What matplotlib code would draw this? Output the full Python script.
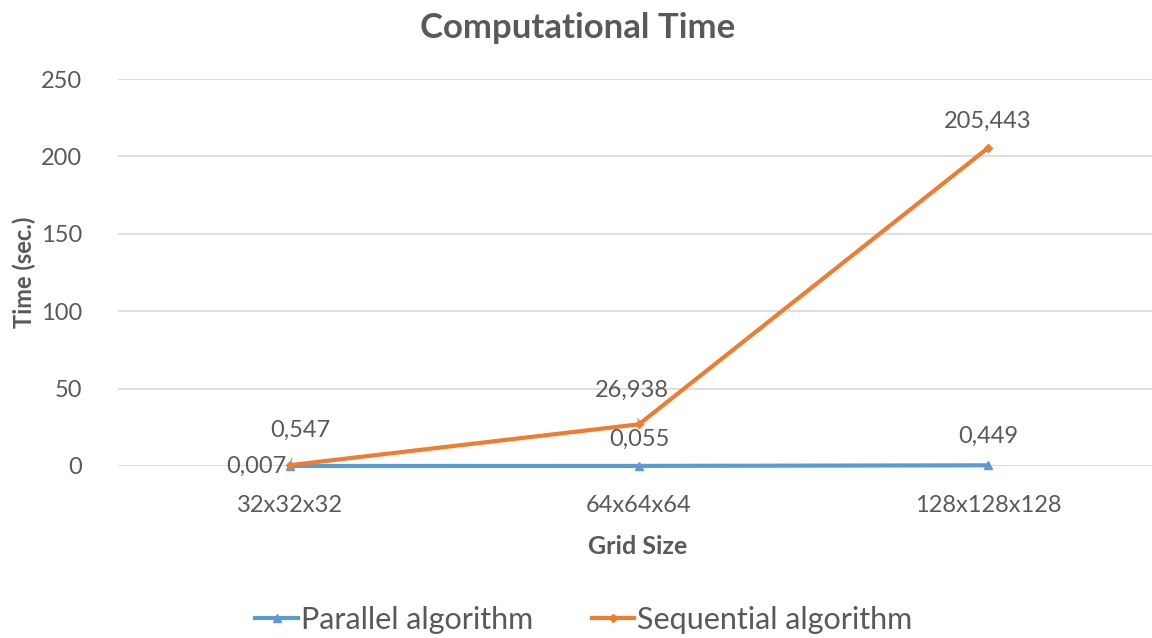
import matplotlib
matplotlib.use("Agg")
import matplotlib.pyplot as plt

categories = ["32x32x32", "64x64x64", "128x128x128"]
parallel = [0.007, 0.055, 0.449]
sequential = [0.547, 26.938, 205.443]
parallel_labels = ["0,007", "0,055", "0,449"]
sequential_labels = ["0,547", "26,938", "205,443"]
yticks = [0, 50, 100, 150, 200, 250]

plt.rcParams['font.family'] = ['Lato', 'DejaVu Sans']
TXT = '#595959'
BLUE = '#5B9BD5'
ORANGE = '#ED7D31'

fig = plt.figure(figsize=(11.52, 6.38), dpi=100)
ax = fig.add_axes([118/1152, (638-466)/638, (1152-118)/1152, (466-79)/638])
x = list(range(len(categories)))

ax.plot(x, parallel, color=BLUE, lw=3, marker='^', ms=6, label='Parallel algorithm',
        zorder=3, clip_on=False)
ax.plot(x, sequential, color=ORANGE, lw=3, marker='D', ms=4, label='Sequential algorithm',
        zorder=4, clip_on=False)

ax.set_xlim((118-290)/349, (1152-290)/349)
ax.set_ylim(0, 250)
ax.set_yticks(yticks)
ax.set_yticklabels([str(t) for t in yticks])
ax.set_xticks(x)
ax.set_xticklabels(categories)
ax.grid(axis='y', color='#D9D9D9', lw=1.2)
ax.set_axisbelow(True)
for s in ax.spines.values():
    s.set_visible(False)
ax.tick_params(axis='both', length=0, colors=TXT, labelsize=17)
ax.tick_params(axis='x', pad=21)
ax.tick_params(axis='y', pad=26)

# data labels
fs = 17
par_off = [(-34, 0), (0, 27), (0, 29)]
for i, (v, lab, off) in enumerate(zip(parallel, parallel_labels, par_off)):
    ax.annotate(lab, (i, v), xytext=off, textcoords='offset pixels',
                ha='center', va='center', fontsize=fs, color=TXT, zorder=5)
seq_off = [(10, 35), (-7, 34), (0, 27)]
for i, (v, lab, off) in enumerate(zip(sequential, sequential_labels, seq_off)):
    arrow = None
    if i < 2:
        arrow = dict(arrowstyle='-', color='#A6A6A6', lw=0.9, shrinkA=11, shrinkB=2)
    ax.annotate(lab, (i, v), xytext=off, textcoords='offset pixels',
                ha='center', va='center', fontsize=fs, color=TXT, zorder=5,
                arrowprops=arrow)

fig.text(578/1152, 1-28/638, 'Computational Time', ha='center', va='center',
         fontsize=25, fontweight='bold', color=TXT)
fig.text(24/1152, 1-272/638, 'Time (sec.)', ha='center', va='center', rotation=90,
         fontsize=17, fontweight='bold', color=TXT)
fig.text(638/1152, 1-546/638, 'Grid Size', ha='center', va='center',
         fontsize=18, fontweight='bold', color=TXT)

leg = fig.legend(loc='center', bbox_to_anchor=(584/1152, 1-620/638), ncol=2, frameon=False,
                 fontsize=22, handlelength=1.4, columnspacing=1.9, handletextpad=0.1)
for t in leg.get_texts():
    t.set_color(TXT)

fig.savefig('out.png', dpi=100)
